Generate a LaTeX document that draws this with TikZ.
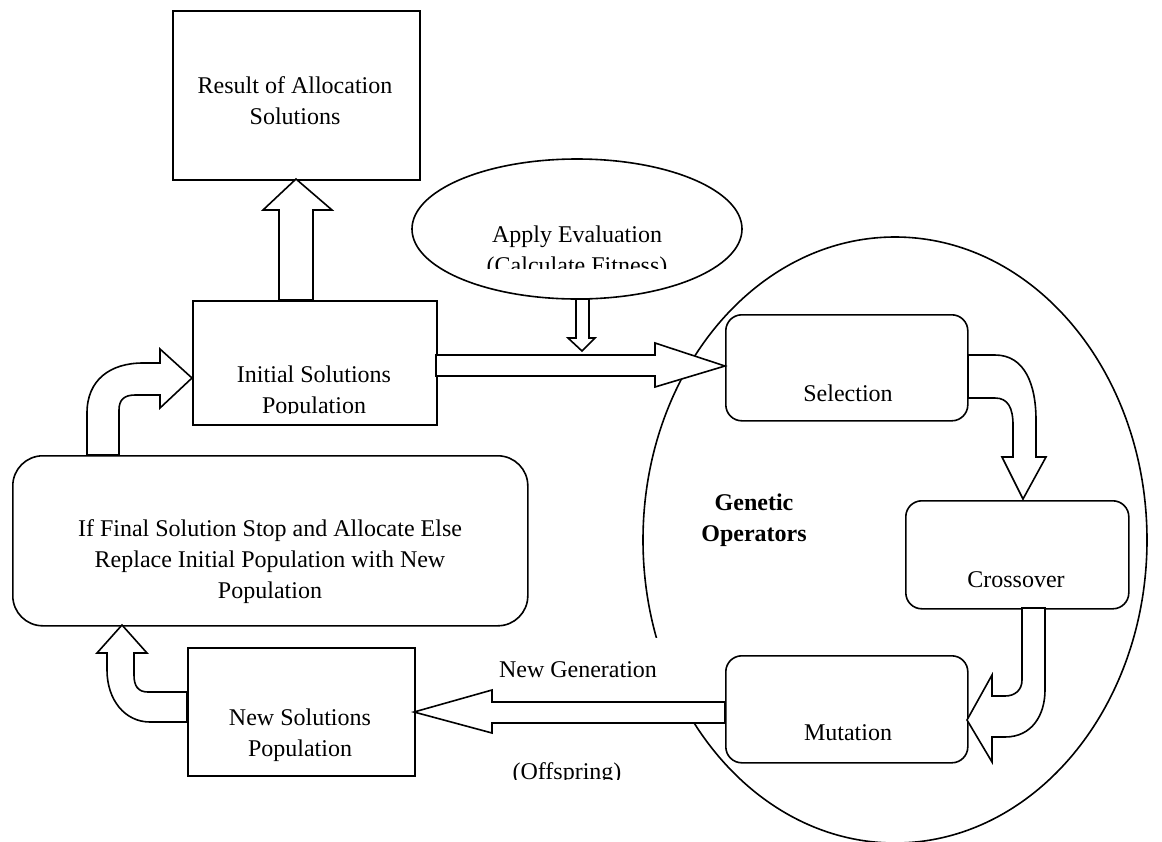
\documentclass[tikz,border=0pt]{standalone}
\usepackage{fontspec}
\setmainfont{Liberation Serif}
\usetikzlibrary{shapes.geometric}
\begin{document}
\begin{tikzpicture}[x=0.5pt,y=-0.5pt,
  lbl/.style={font=\fontsize{12}{15.5}\selectfont, align=center, inner sep=0pt},
  boxsq/.style={draw, line width=0.8pt, fill=white, anchor=north west, inner sep=0pt},
  boxrd/.style={boxsq, rounded corners=8pt},
  blockarrow/.style={draw, fill=white, line width=0.8pt, line join=miter}]
\useasboundingbox (0,0) rectangle (1162,841);

% big ellipse of the genetic operators
\node[draw, ellipse, line width=0.8pt, minimum width=252pt, minimum height=303pt, inner sep=0pt] (genop) at (895,540) {};
\node[lbl, font=\fontsize{12}{15.5}\selectfont\bfseries] (genlbl) at (754,520) {Genetic\\Operators};

% label that covers part of the big ellipse
\node[lbl, fill=white, minimum width=107pt, minimum height=32pt] (newgen) at (578,670) {\raisebox{-2.5pt}{New Generation}};

% boxes
\node[boxsq, minimum width=123.5pt, minimum height=84.5pt] (result) at (172,10) {};
\node[lbl] (resultt) at (295,101) {Result of Allocation\\Solutions};

\node[boxsq, minimum width=122pt, minimum height=62pt] (init) at (192,300) {};
\begin{scope}
\clip (192,300) rectangle (436,413);
\node[lbl] (initt) at (314,392) {Initial Solutions\\Population};
\end{scope}

\node[boxsq, rounded corners=15pt, minimum width=257.5pt, minimum height=85pt] (final) at (12,455) {};
\node[lbl] (finalt) at (270,562) {If Final Solution Stop and Allocate Else\\Replace Initial Population with New\\Population};

\node[boxsq, minimum width=113.5pt, minimum height=64pt] (newsol) at (187,647) {};
\node[lbl] (newsolt) at (300,735) {New Solutions\\Population};

\node[boxrd, minimum width=121pt, minimum height=53pt] (sel) at (725,314) {};
\node[lbl] (selt) at (848,393) {Selection};
\node[boxrd, minimum width=111.5pt, minimum height=54pt] (cross) at (905,500) {};
\node[lbl] (crosst) at (1016,580) {Crossover};
\node[boxrd, minimum width=121pt, minimum height=53.5pt] (mut) at (725,655) {};
\node[lbl] (mutt) at (848,733) {Mutation};

% evaluation ellipse
\node[draw, ellipse, line width=0.8pt, fill=white, minimum width=165pt, minimum height=70pt, inner sep=0pt] (eval) at (577,229) {};
\begin{scope}
\clip (420,160) rectangle (740,268);
\node[lbl] (evalt) at (577,252) {Apply Evaluation\\(Calculate Fitness)};
\end{scope}

\begin{scope}
\clip (480,740) rectangle (660,779);
\node[lbl] (offs) at (567,774) {(Offspring)};
\end{scope}

% block arrows
\draw[blockarrow] (279,300) -- (279,210) -- (263,210) -- (296,179) -- (332,210) -- (313,210) -- (313,300) -- cycle;
\draw[blockarrow] (436,355) -- (655,355) -- (655,343) -- (725,366) -- (655,387) -- (655,376) -- (436,376) -- cycle;
\draw[blockarrow] (576,299) -- (576,338) -- (568,338) -- (582,351) -- (595,338) -- (589,338) -- (589,299) -- cycle;
\draw[blockarrow] (87,455) -- (87,413) .. controls (87,380) and (110,363) .. (143,363) -- (160,363) -- (160,349) -- (192,378) -- (160,408) -- (160,395) -- (135,395) .. controls (124,395) and (119,400) .. (119,410) -- (119,455) -- cycle;
\draw[blockarrow] (187,722) -- (150,722) .. controls (125,722) and (107,700) .. (107,670) -- (107,653) -- (97,653) -- (122,625) -- (147,653) -- (134,653) -- (134,675) .. controls (134,686) and (138,692) .. (148,692) -- (187,692) -- cycle;
\draw[blockarrow] (968,355) -- (995,355) .. controls (1025,355) and (1036,385) .. (1036,420) -- (1036,457) -- (1046,457) -- (1023,499) -- (1002,457) -- (1013,457) -- (1013,425) .. controls (1013,408) and (1008,398) .. (995,398) -- (968,398) -- cycle;
\draw[blockarrow] (1022,608) -- (1022,680) .. controls (1022,690) and (1015,696) .. (1005,696) -- (992,696) -- (992,675) -- (967,720) -- (992,762) -- (992,737) -- (1005,737) .. controls (1032,737) and (1045,715) .. (1045,690) -- (1045,608) -- cycle;
\draw[blockarrow] (725,702) -- (492,702) -- (492,690) -- (414,712) -- (492,733) -- (492,723) -- (725,723) -- cycle;
\end{tikzpicture}
\end{document}
